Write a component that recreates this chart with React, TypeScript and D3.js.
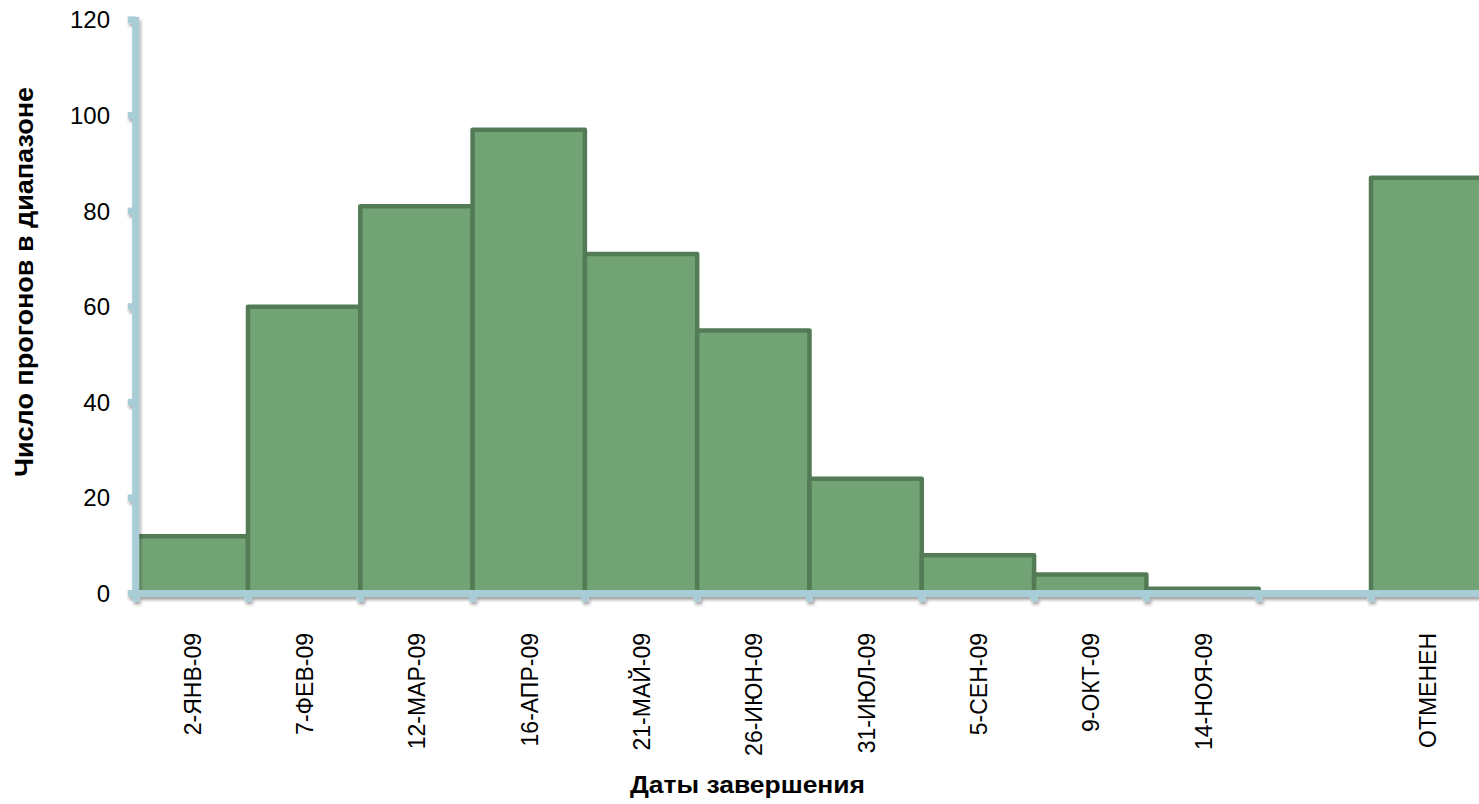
import React from "react";
import * as d3 from "d3";

// Completion date bins and run counts per bin
const categories: string[] = [
  "2-ЯНВ-09",
  "7-ФЕВ-09",
  "12-МАР-09",
  "16-АПР-09",
  "21-МАЙ-09",
  "26-ИЮН-09",
  "31-ИЮЛ-09",
  "5-СЕН-09",
  "9-ОКТ-09",
  "14-НОЯ-09",
  "",
  "ОТМЕНЕН",
];
const counts: number[] = [12, 60, 81, 97, 71, 55, 24, 8, 4, 1, 0, 87];
const yTicks: number[] = [0, 20, 40, 60, 80, 100, 120];

const xTitle = "Даты завершения";
const yTitle = "Число прогонов в диапазоне";

const W = 1479;
const H = 804;
const FONT = "'Liberation Sans', Arial, Helvetica, sans-serif";

const FILL = "#72a375";
const STROKE = "#537c56";
const AXIS = "#a8cdd7";

export default function App() {
  const x = d3
    .scaleBand<number>()
    .domain(categories.map((_, i) => i))
    .range([135.7, 135.7 + 112.3 * categories.length])
    .padding(0);
  const y = d3.scaleLinear().domain([0, 120]).range([593.5, 19.9]);

  const x0 = x.range()[0];
  const y0 = y(0);
  const bw = x.bandwidth();
  const boundaries = d3.range(categories.length + 1).map((i) => x0 + i * bw);

  return (
    <svg
      width={W}
      height={H}
      style={{ position: "absolute", left: 0, top: 0, background: "#fff" }}
    >
      <defs>
        <filter id="axShadow" x="-50%" y="-50%" width="200%" height="200%">
          <feDropShadow dx="1.5" dy="3" stdDeviation="1.6" floodColor="#000" floodOpacity="0.35" />
        </filter>
      </defs>

      {/* bars */}
      {counts.map((v, i) =>
        v > 0 ? (
          <rect
            key={i}
            x={x(i)!}
            y={y(v)}
            width={bw}
            height={y0 - y(v)}
            fill={FILL}
            stroke={STROKE}
            strokeWidth={4.5}
            strokeLinejoin="round"
          />
        ) : null
      )}

      {/* axes */}
      <g filter="url(#axShadow)" fill={AXIS}>
        <rect x={x0 - 3.5} y={y(120) - 3} width={7} height={y0 - y(120) + 6.5} />
        <rect x={x0 - 3.5} y={y0 - 3.5} width={W - x0 + 10} height={7} />
        {yTicks.map((t) => (
          <rect key={"yt" + t} x={x0 - 8} y={y(t) - 3.5} width={8} height={7} />
        ))}
        {boundaries.map((b, i) => (
          <rect key={"xt" + i} x={b - 3.5} y={y0} width={7} height={8} />
        ))}
      </g>

      {/* y tick labels */}
      {yTicks.map((t) => (
        <text
          key={"yl" + t}
          x={110}
          y={y(t)}
          textAnchor="end"
          dominantBaseline="central"
          fontFamily={FONT}
          fontSize={24}
          fill="#000"
        >
          {t}
        </text>
      ))}

      {/* x tick labels */}
      {categories.map((c, i) => (
        <text
          key={"xl" + i}
          transform={`translate(${x(i)! + bw / 2 + 1},${633}) rotate(-90)`}
          textAnchor="end"
          dominantBaseline="central"
          fontFamily={FONT}
          fontSize={23}
          fill="#000"
        >
          {c}
        </text>
      ))}

      {/* axis titles */}
      <text
        x={747.5}
        y={793}
        textAnchor="middle"
        fontFamily={FONT}
        fontSize={24}
        fontWeight="bold"
        fill="#000"
        textLength={235}
        lengthAdjust="spacingAndGlyphs"
      >
        {xTitle}
      </text>
      <text
        transform={`translate(24,${282}) rotate(-90)`}
        textAnchor="middle"
        dominantBaseline="central"
        fontFamily={FONT}
        fontSize={25}
        fontWeight="bold"
        fill="#000"
        textLength={390}
        lengthAdjust="spacingAndGlyphs"
      >
        {yTitle}
      </text>
    </svg>
  );
}
